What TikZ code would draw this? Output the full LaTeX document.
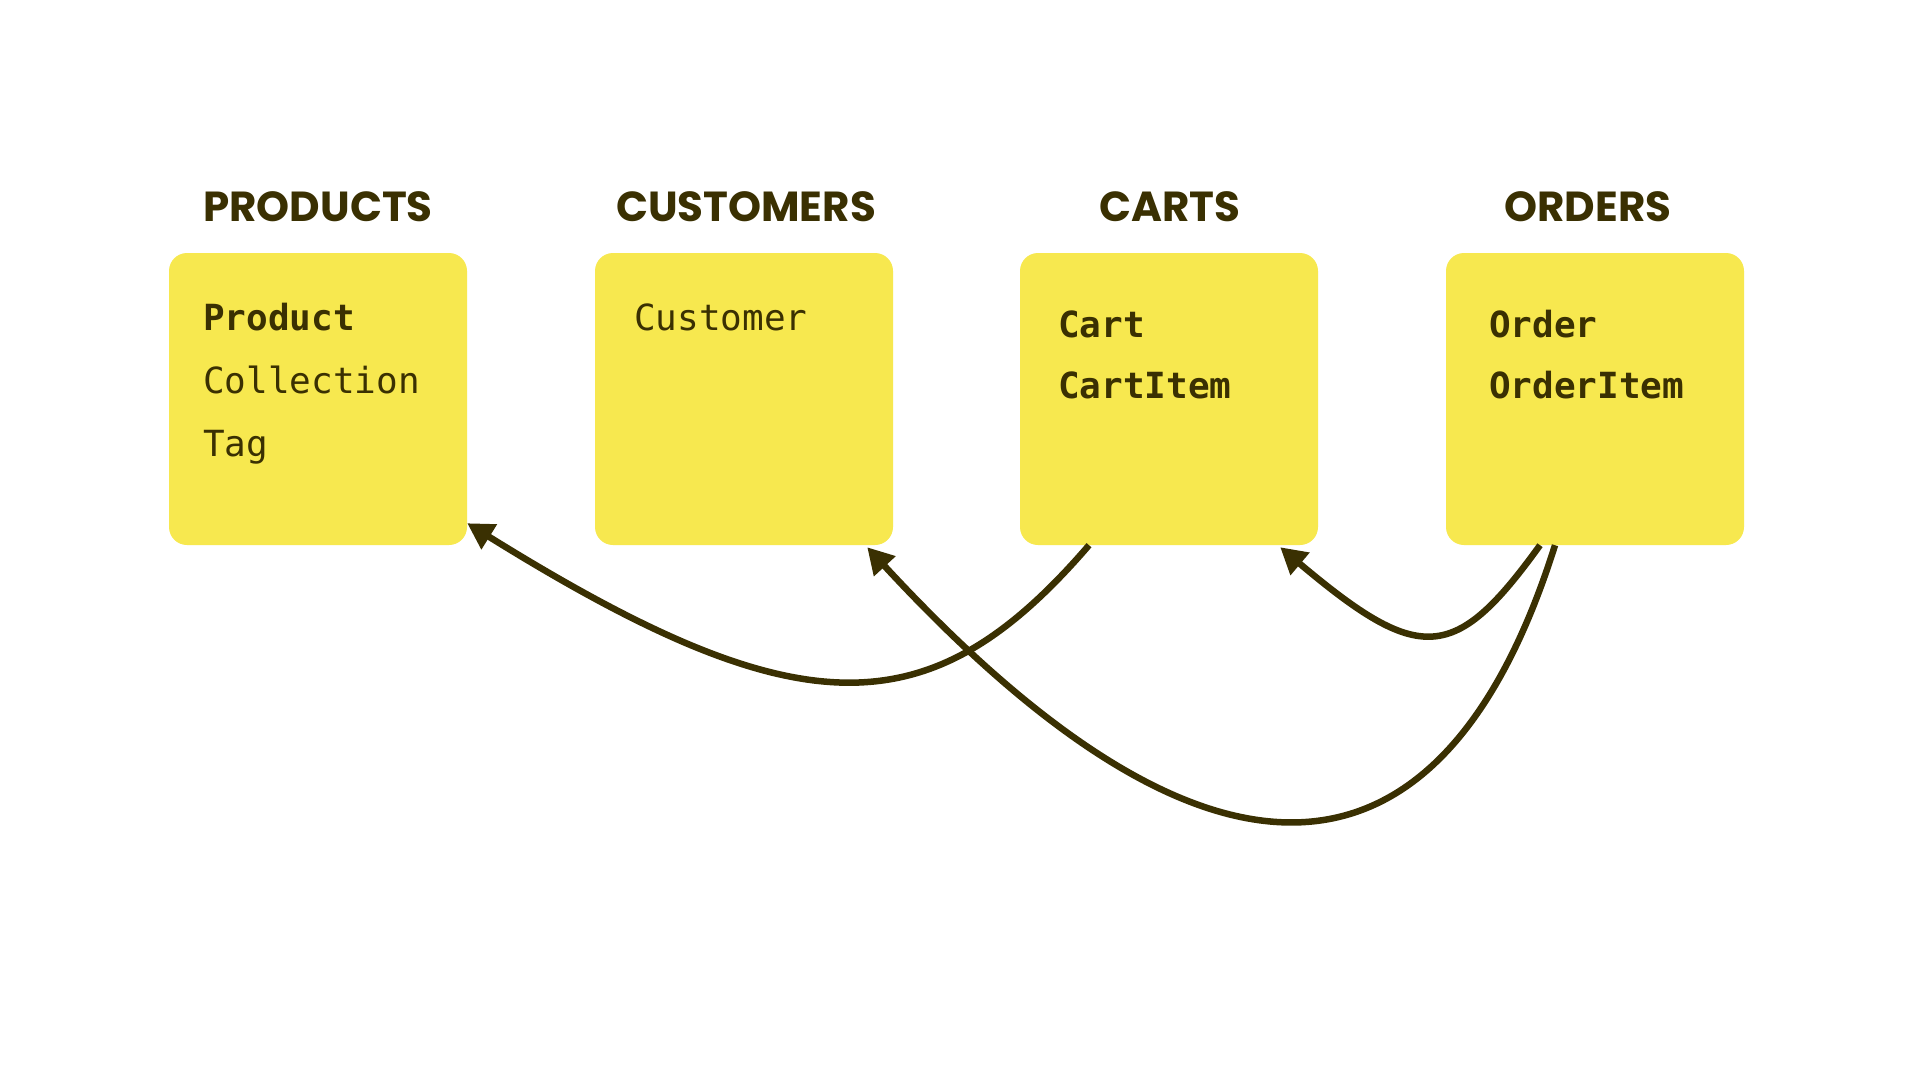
\documentclass[tikz,border=0pt]{standalone}
\usepackage{fontspec}
\usetikzlibrary{arrows.meta,calc}
\newfontfamily\titlefont{Poppins}
\newfontfamily\codefont{DejaVu Sans Mono}
\definecolor{ink}{HTML}{3A3002}
\definecolor{sticky}{HTML}{F7E84F}
\begin{document}
\begin{tikzpicture}[x=1pt,y=-1pt,
  box/.style={draw=none,fill=sticky,rounded corners=18pt,minimum width=298pt,minimum height=292pt,inner sep=0pt},
  title/.style={anchor=base,text=ink,font=\titlefont\bfseries\fontsize{42}{50}\selectfont,inner sep=0pt},
  code/.style={anchor=base west,text=ink,font=\codefont\fontsize{36}{42}\selectfont,inner sep=0pt},
  codeb/.style={code,font=\codefont\bfseries\fontsize{36}{42}\selectfont},
  link/.style={draw=ink,line width=6.5pt,-{Triangle[length=26pt,width=28pt]}}]
\fill[white] (0,0) rectangle (1920,1080);
\useasboundingbox (0,0) rectangle (1920,1080);
% boxes
\node[box] (prod) at (318,399) {};
\node[box] (cust) at (744,399) {};
\node[box] (cart) at (1169,399) {};
\node[box] (ord) at (1595,399) {};
% titles
\node[title] (tprod) at (318,221) {PRODUCTS};
\node[title] (tcust) at (746,221) {CUSTOMERS};
\node[title] (tcart) at (1170,221) {CARTS};
\node[title] (tord) at (1588,221) {ORDERS};
% contents
\node[codeb] (product) at (203,330) {Product};
\node[code] (collection) at (203,393) {Collection};
\node[code] (tag) at (203,456) {Tag};
\node[code] (customer) at (634,330) {Customer};
\node[codeb] (cartn) at (1058,337) {Cart};
\node[codeb] (cartitem) at (1058,398) {CartItem};
\node[codeb] (order) at (1489,337) {Order};
\node[codeb] (orderitem) at (1489,398) {OrderItem};
% connectors
\coordinate (a1s) at ([xshift=-80pt]cart.south);
\coordinate (a1e) at ([xshift=0pt,yshift=22pt]prod.south east);
\coordinate (a2s) at ([xshift=-40pt]ord.south);
\coordinate (a2e) at ([xshift=-26pt,yshift=-2pt]cust.south east);
\coordinate (a3s) at ([xshift=-55pt]ord.south);
\coordinate (a3e) at ([xshift=-38pt,yshift=-2pt]cart.south east);
\draw[link] (a1s) .. controls (930,730) and (800,730) .. (a1e);
\draw[link] (a2s) .. controls (1440,911) and (1204,912) .. (a2e);
\draw[link] (a3s) .. controls (1455,663) and (1420,665) .. (a3e);
\end{tikzpicture}
\end{document}
